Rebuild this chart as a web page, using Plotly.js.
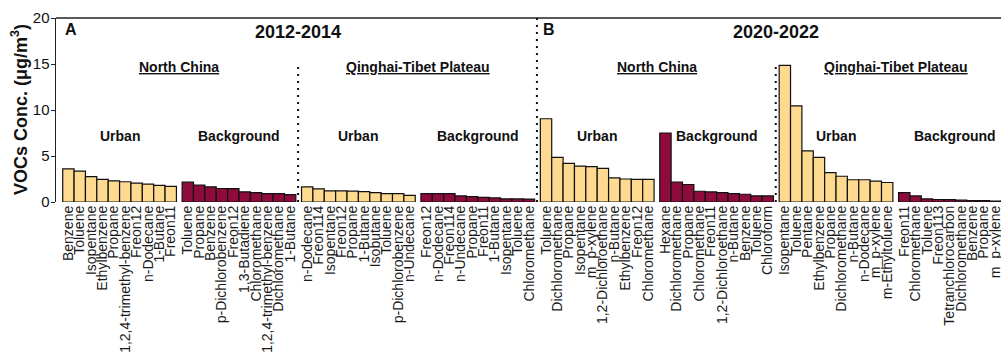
<!DOCTYPE html>
<html>
<head>
<meta charset="utf-8">
<script src="https://cdn.plot.ly/plotly-3.0.1.min.js"></script>
<style>
html,body{margin:0;padding:0;background:#fff;overflow:hidden;width:1001px;height:352px;}
#chart{width:1030px;height:352px;}
</style>
</head>
<body>
<div id="chart"></div>
<script>
// ---- Data ----
// Period A: 2012-2014
const ncUrbanA_names = ["Benzene","Toluene","Isopentane","Ethylbenzene","Propane","1,2,4-trimethyl-benzene","Freon12","n-Dodecane","1-Butane","Freon11"];
const ncUrbanA_vals  = [3.6,3.35,2.75,2.45,2.3,2.2,2.05,1.95,1.8,1.7];
const ncBgA_names = ["Toluene","Propane","Benzene","p-Dichlorobenzene","Freon12","1,3-Butadiene","Chloromethane","1,2,4-trimethyl-benzene","Dichloromethane","1-Butane"];
const ncBgA_vals  = [2.15,1.85,1.65,1.47,1.45,1.1,1.02,0.92,0.9,0.8];
const qtpUrbanA_names = ["n-Dodecane","Freon114","Isopentane","Freon12","Propane","1-Butane","Isobutane","Toluene","p-Dichlorobenzene","n-Undecane"];
const qtpUrbanA_vals  = [1.65,1.42,1.22,1.2,1.18,1.13,1.02,0.92,0.9,0.72];
const qtpBgA_names = ["Freon12","n-Dodecane","Freon114","n-Undecane","Propane","Freon11","1-Butane","Isopentane","Toluene","Chloromethane"];
const qtpBgA_vals  = [0.92,0.91,0.9,0.66,0.58,0.5,0.44,0.34,0.33,0.32];
// Period B: 2020-2022
const ncUrbanB_names = ["Toluene","Dichloromethane","Propane","Isopentane","m_p-xylene","1,2-Dichloroethane","n-Butane","Ethylbenzene","Freon12","Chloromethane"];
const ncUrbanB_vals  = [9.05,4.85,4.2,3.9,3.85,3.65,2.63,2.5,2.45,2.45];
const ncBgB_names = ["Hexane","Dichloromethane","Propane","Chloromethane","Freon11","1,2-Dichloroethane","n-Butane","Benzene","Toluene","Chloroform"];
const ncBgB_vals  = [7.5,2.15,1.9,1.17,1.1,1.02,0.91,0.84,0.67,0.66];
const qtpUrbanB_names = ["Isopentane","Toluene","Pentane","Ethylbenzene","Propane","Dichloromethane","n-Butane","n-Dodecane","m_p-xylene","m-Ethyltoluene"];
const qtpUrbanB_vals  = [14.85,10.45,5.55,4.85,3.2,2.8,2.42,2.42,2.27,2.12];
const qtpBgB_names = ["Freon11","Chloromethane","Toluene","Freon113","Tetranchlorocarbon","Dichloromethane","Benzene","Propane","m_p-xylene","o-xylene"];
const qtpBgB_vals  = [1.02,0.66,0.33,0.27,0.26,0.2,0.16,0.15,0.1,0.08];

const siteLabels = ["Urban","Background","Urban","Background","Urban","Background","Urban","Background"];
const regionLabels = ["North China","Qinghai-Tibet Plateau","North China","Qinghai-Tibet Plateau"];
const periodLabels = ["2012-2014","2020-2022"];
const panelLabels = ["A","B"];
const yTicks = [0,5,10,15,20];
const yTitle = "VOCs Conc. (μg/m<sup>3</sup>)";

// ---- Build ----
const groups = [
  [ncUrbanA_names, ncUrbanA_vals, "urban"],
  [ncBgA_names, ncBgA_vals, "bg"],
  [qtpUrbanA_names, qtpUrbanA_vals, "urban"],
  [qtpBgA_names, qtpBgA_vals, "bg"],
  [ncUrbanB_names, ncUrbanB_vals, "urban"],
  [ncBgB_names, ncBgB_vals, "bg"],
  [qtpUrbanB_names, qtpUrbanB_vals, "urban"],
  [qtpBgB_names, qtpBgB_vals, "bg"]
];
const COLORS = {urban: "#FDDA90", bg: "#8F0B3C"};
const PERIOD = 10.5;
const FONT = "Liberation Sans, Arial, sans-serif";

const traces = [];
const tickvals = [], ticktext = [];
groups.forEach((g, gi) => {
  const [names, vals, kind] = g;
  const xs = names.map((_, i) => gi * PERIOD + i);
  xs.forEach((x, i) => { tickvals.push(x); ticktext.push(names[i]); });
  traces.push({
    type: "bar", x: xs, y: vals, width: 1,
    marker: {color: COLORS[kind], line: {color: "#111", width: 1.2}},
    showlegend: false, hoverinfo: "x+y"
  });
});

const groupCenter = gi => gi * PERIOD + 4.5;
const sepX = gi => gi * PERIOD + 9.7;

const annotations = [];
siteLabels.forEach((t, gi) => annotations.push({
  text: "<b>" + t + "</b>", x: groupCenter(gi), y: 7.15, xref: "x", yref: "y",
  showarrow: false, font: {family: FONT, size: 14, color: "#111"}
}));
regionLabels.forEach((t, ri) => annotations.push({
  text: "<b><u>" + t + "</u></b>", x: (groupCenter(2*ri) + groupCenter(2*ri+1)) / 2, y: 14.7,
  xref: "x", yref: "y", showarrow: false, font: {family: FONT, size: 14, color: "#111"}
}));
periodLabels.forEach((t, pi) => annotations.push({
  text: "<b>" + t + "</b>", x: sepX(4*pi + 1), y: 18.5, xref: "x", yref: "y",
  showarrow: false, font: {family: FONT, size: 18, color: "#111"}
}));
panelLabels.forEach((t, pi) => annotations.push({
  text: "<b>" + t + "</b>", x: pi * 4 * PERIOD - 0.45, y: 18.7, xref: "x", yref: "y",
  xanchor: "left", showarrow: false, font: {family: FONT, size: 16, color: "#111"}
}));
// y-axis title
annotations.push({
  text: "<b>" + yTitle + "</b>", xref: "paper", yref: "paper", x: 0, y: 0.5,
  xanchor: "center", yanchor: "middle", xshift: -37, textangle: -90, showarrow: false,
  font: {family: FONT, size: 18, color: "#111"}
});

const dotted = {color: "#111", width: 2, dash: "2px,5px"};
const shapes = [
  {type: "line", xref: "paper", yref: "paper", x0: 0, x1: 1, y0: 1, y1: 1, line: {color: "#222", width: 1.5}},
  {type: "line", xref: "x", yref: "y", x0: sepX(1), x1: sepX(1), y0: 0, y1: 15, line: dotted},
  {type: "line", xref: "x", yref: "y", x0: sepX(3), x1: sepX(3), y0: 0, y1: 20, line: dotted},
  {type: "line", xref: "x", yref: "y", x0: sepX(5), x1: sepX(5), y0: 0, y1: 15, line: dotted}
];

const layout = {
  width: 1030, height: 352,
  margin: {l: 56, r: 11, t: 18, b: 150, pad: 0},
  paper_bgcolor: "#fff", plot_bgcolor: "#fff",
  bargap: 0,
  font: {family: FONT, color: "#111"},
  xaxis: {
    range: [-1.09, 83.59], tickvals: tickvals, ticktext: ticktext, tickangle: -90,
    tickfont: {family: FONT, size: 14, color: "#1a1a1a"}, ticks: "", showgrid: false,
    zeroline: false, showline: false, fixedrange: true
  },
  yaxis: {
    range: [0, 20], tickvals: yTicks, ticks: "outside", ticklen: 4, tickwidth: 1, tickcolor: "#222",
    showline: true, linecolor: "#222", linewidth: 1.5, showgrid: false, zeroline: false,
    ticklabelstandoff: -2,
    tickfont: {family: FONT, size: 15, color: "#111"}
  },
  annotations: annotations,
  shapes: shapes
};

Plotly.newPlot("chart", traces, layout, {displayModeBar: false, staticPlot: true});
</script>
</body>
</html>
